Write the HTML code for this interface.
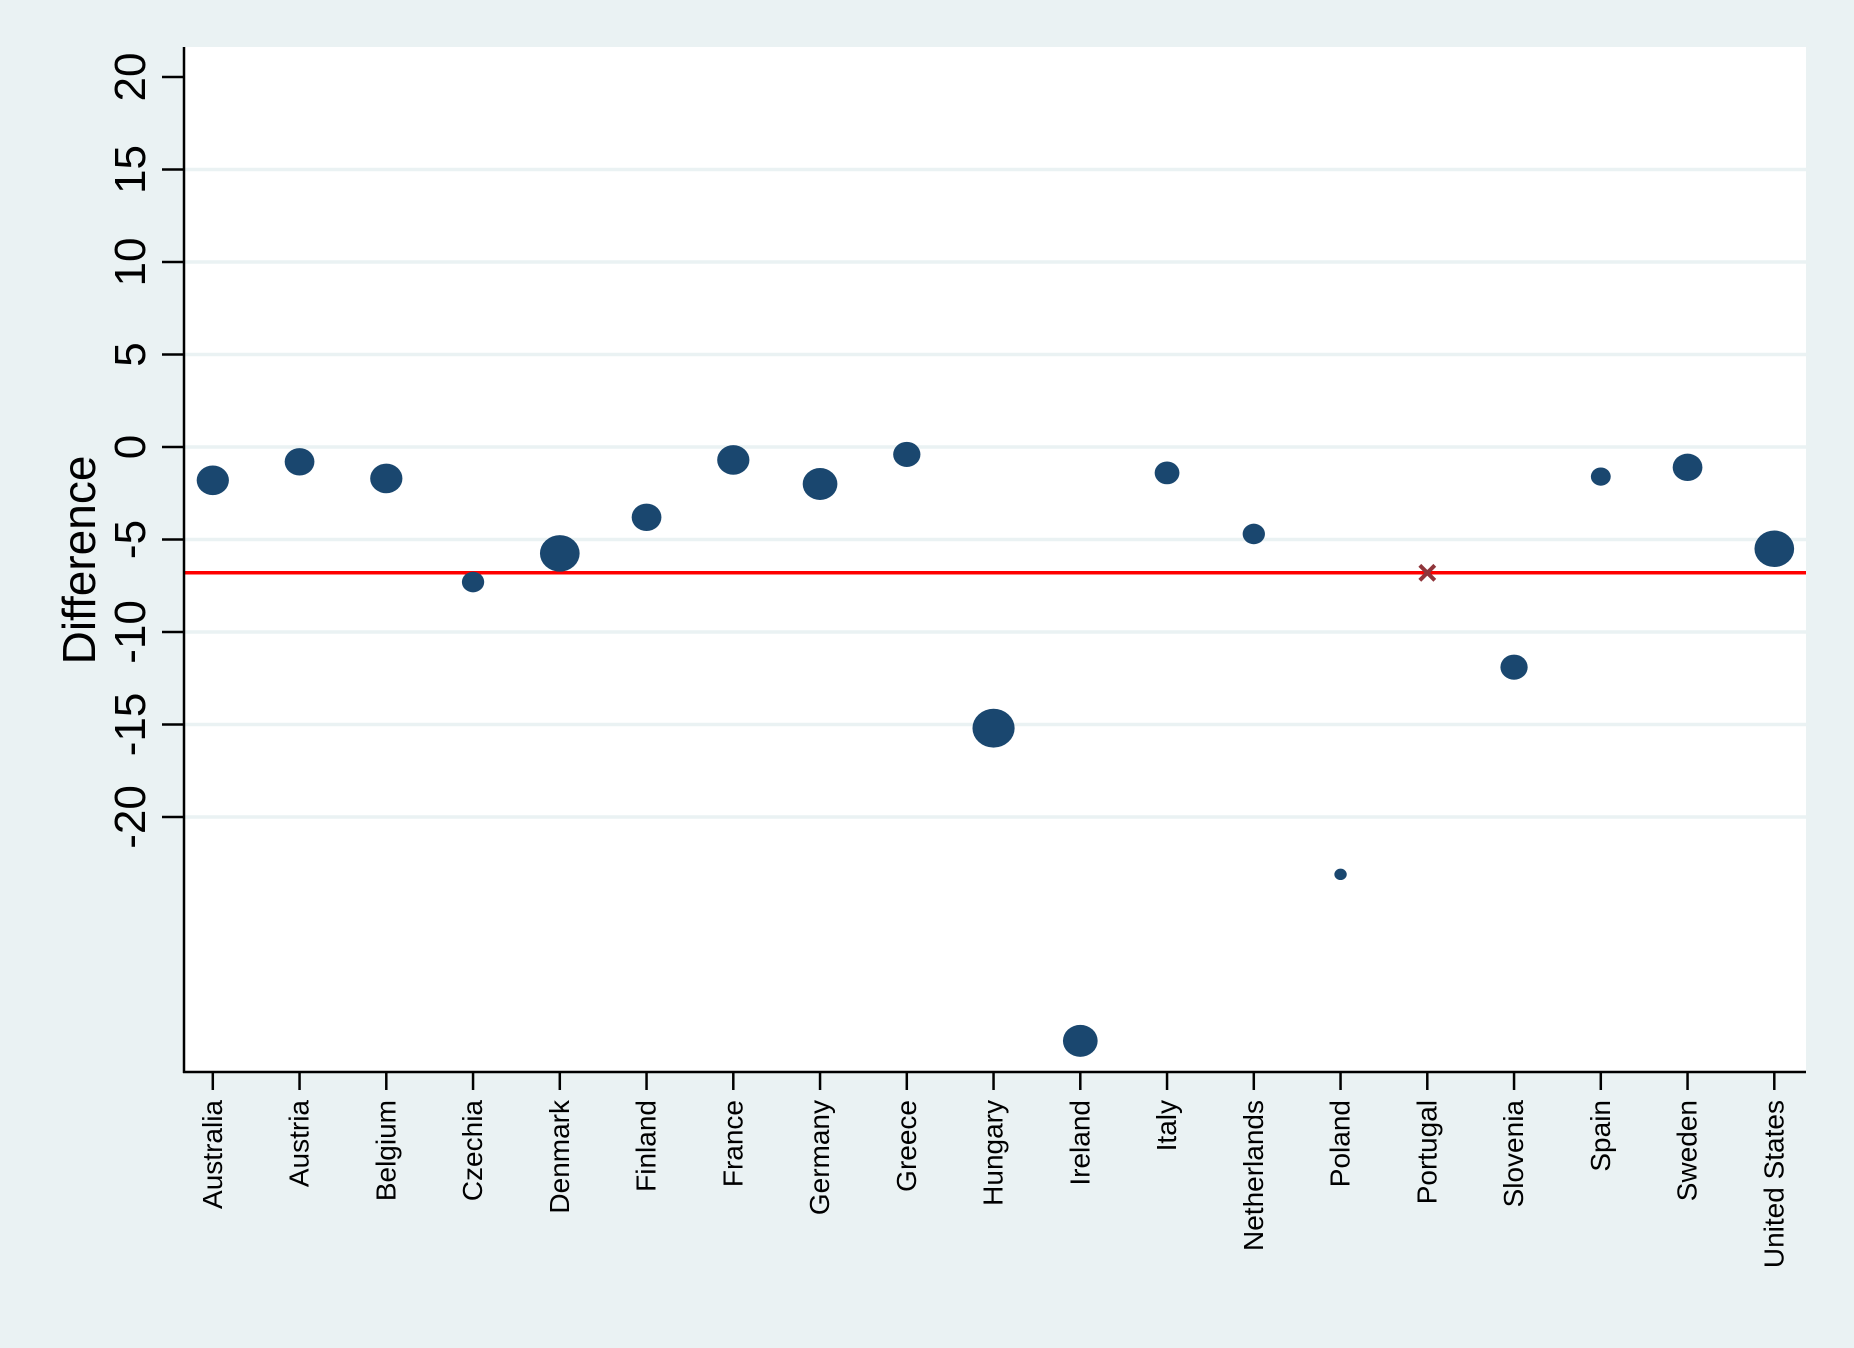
<!DOCTYPE html>
<html><head><meta charset="utf-8"><style>
body{margin:0;background:#eaf2f3;}
svg{display:block;font-family:"Liberation Sans",Arial,sans-serif;}
</style></head><body>
<svg id="chart" width="1854" height="1348" viewBox="0 0 1854 1348" xmlns="http://www.w3.org/2000/svg">
<rect x="0" y="0" width="1854" height="1348" fill="#eaf2f3"/>
<rect x="183" y="47" width="1623" height="1025" fill="#ffffff"/>
<g id="grid"></g>
<g id="marks"></g>
<g id="axes"></g>
<text transform="translate(95,560) rotate(-90)" text-anchor="middle" font-size="46" fill="#000">Difference</text>
</svg>
<script>
const categories = ["Australia","Austria","Belgium","Czechia","Denmark","Finland","France","Germany","Greece","Hungary","Ireland","Italy","Netherlands","Poland","Portugal","Slovenia","Spain","Sweden","United States"];
const diffValues = [-1.8,-0.8,-1.7,-7.3,-5.75,-3.8,-0.7,-2.0,-0.4,-15.2,-32.1,-1.4,-4.7,-23.1,-6.8,-11.9,-1.6,-1.1,-5.5];
const weights = [13,12,13,9,16,12,13,14,11,17,14,10,9,5,0,11,8,12,16];
const referenceValue = -6.8;
const referenceCategory = "Portugal";
const yTicks = [-20,-15,-10,-5,0,5,10,15,20];

const NS="http://www.w3.org/2000/svg";
const yScale = v => 447 - v*18.5;
const xScale = i => 212.8 + i*86.75;
const grid=document.getElementById('grid'), marks=document.getElementById('marks'), axes=document.getElementById('axes');
function mk(tag,attrs,parent){const e=document.createElementNS(NS,tag);for(const k in attrs)e.setAttribute(k,attrs[k]);parent.appendChild(e);return e;}

yTicks.forEach(t=>{
  const y=yScale(t);
  if(t!==20){const g=mk('line',{x1:185,x2:1806,y1:y,y2:y,stroke:'#eaf2f3','stroke-width':3.5},grid);
  
  }
  const tk=mk('line',{x1:162,x2:184,y1:y,y2:y,stroke:'#000','stroke-width':2.5},axes);
  
  
  const lb=mk('text',{transform:`translate(145,${y}) rotate(-90)`,'text-anchor':'middle','font-size':44,fill:'#000'},axes);
  lb.textContent=t;
  
  
});

const ref=mk('line',{x1:185,x2:1806,y1:yScale(referenceValue),y2:yScale(referenceValue),stroke:'#ff0000','stroke-width':3.5},marks);



categories.forEach((c,i)=>{
  const x=xScale(i), y=yScale(diffValues[i]);
  if(c===referenceCategory){
    const p=mk('path',{d:`M${x-7.5},${y-7.5}L${x+7.5},${y+7.5}M${x-7.5},${y+7.5}L${x+7.5},${y-7.5}`,stroke:'#90353b','stroke-width':4,fill:'none'},marks);
    
    
  } else {
    const r=weights[i]*1.24;
    const e=mk('ellipse',{cx:x,cy:y,rx:r,ry:r*0.92,fill:'#1a476f'},marks);
    
    
  }
  const tk=mk('line',{x1:x,x2:x,y1:1071,y2:1090,stroke:'#000','stroke-width':2.5},axes);
  
  
  const lb=mk('text',{transform:`translate(${x+9},1100) rotate(-90)`,'text-anchor':'end','font-size':28,fill:'#000'},axes);
  lb.textContent=c;
  
  
});

const ya=mk('line',{x1:184,x2:184,y1:47,y2:1073,stroke:'#000','stroke-width':2.5},axes);


const xa=mk('line',{x1:183,x2:1806,y1:1072,y2:1072,stroke:'#000','stroke-width':2.5},axes);


</script>
</body></html>
